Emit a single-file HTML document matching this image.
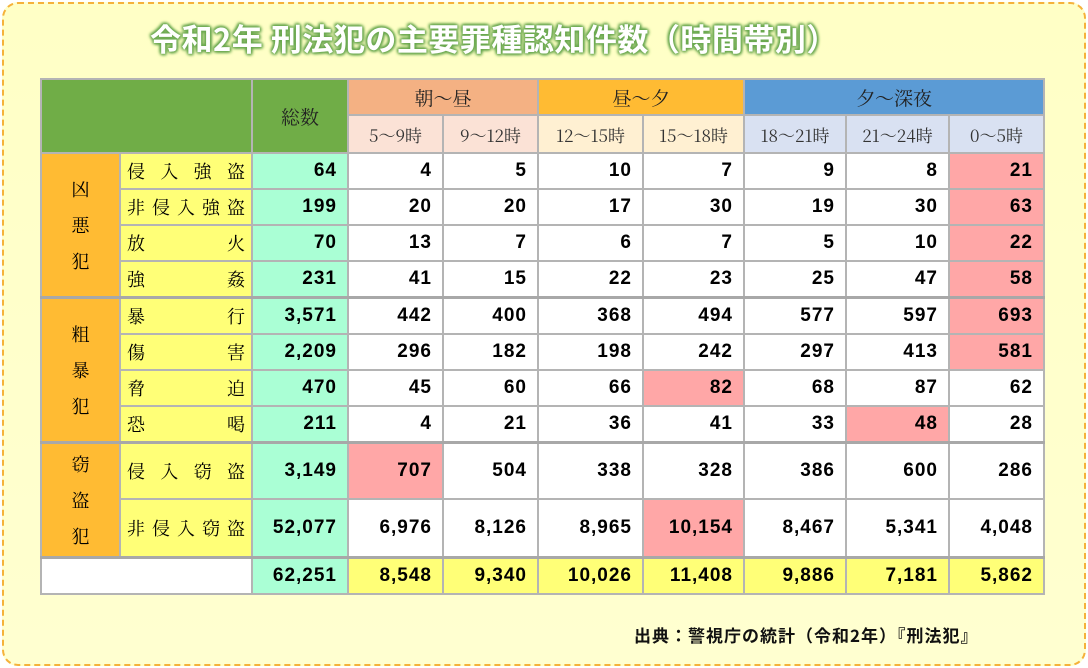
<!DOCTYPE html>
<html><head><meta charset="utf-8"><style>
body{margin:0;width:1088px;height:668px;overflow:hidden;background:#fff;font-family:"Liberation Sans","Noto Sans CJK JP",sans-serif}
.frame{position:absolute;left:2px;top:2px;width:1080px;height:660px;border:2px dashed #f5b23a;border-radius:16px;background:linear-gradient(#ffffc6,#ffffd0)}
.title{position:absolute;left:150px;top:15px;white-space:nowrap;font-size:31px;letter-spacing:0.5px;font-weight:bold;color:#fff;font-family:"Noto Sans CJK JP",sans-serif;text-shadow:0 0 3px #6aa84f,0 0 3px #6aa84f,0 0 4px #6aa84f,1px 1px 3px #6aa84f,-1px -1px 3px #6aa84f}
table{position:absolute;left:40px;top:78px;border-collapse:collapse;table-layout:fixed}
td{border:2px solid #b4b4b4;padding:0;font-size:19px;height:34px}
.h{font-family:"Noto Serif CJK JP",serif;text-align:center;font-size:19px;color:#222}
.s{font-family:"Noto Serif CJK JP",serif;text-align:center;font-size:17px;color:#333}
.n{text-align:right;padding-right:10px;font-weight:bold;font-family:"Liberation Sans Narrow","Liberation Sans",sans-serif;font-stretch:condensed;letter-spacing:1px;background:#fff}
.m{background:#aaffd5}
.p{background:#ffa7a7}
.y{background:#ffff77}
.c{background:#ffbb33;font-family:"Noto Serif CJK JP",serif;text-align:center;font-size:18px;line-height:36px}
.l{background:#ffff77;font-family:"Noto Serif CJK JP",serif;font-size:18px;padding:0 6px;text-align:justify;text-align-last:justify}
.g{border-top:3px solid #a8a8a8}
.src{position:absolute;left:634px;top:622px;font-size:17px;letter-spacing:1px;font-weight:bold;font-family:"Noto Sans CJK JP",sans-serif;color:#111;white-space:nowrap}
</style></head><body>
<div class="frame"></div>
<div class="title">令和2年 刑法犯の主要罪種認知件数（時間帯別）</div>
<table>
<colgroup><col style="width:79px"><col style="width:132px"><col style="width:96px"><col style="width:95px"><col style="width:95px"><col style="width:105px"><col style="width:101px"><col style="width:102px"><col style="width:103px"><col style="width:95px"></colgroup>
<tr><td colspan="2" rowspan="2" style="background:#70ad47"></td><td rowspan="2" class="h" style="background:#70ad47">総数</td><td colspan="2" class="h" style="background:#f4b183;height:33px">朝～昼</td><td colspan="2" class="h" style="background:#ffbb33">昼～夕</td><td colspan="3" class="h" style="background:#5b9bd5">夕～深夜</td></tr>
<tr><td class="s" style="background:#fbe2d6;height:36px">5～9時</td><td class="s" style="background:#fbe2d6">9～12時</td><td class="s" style="background:#fff0d2">12～15時</td><td class="s" style="background:#fff0d2">15～18時</td><td class="s" style="background:#d9e1f2">18～21時</td><td class="s" style="background:#d9e1f2">21～24時</td><td class="s" style="background:#d9e1f2">0～5時</td></tr>
<tr><td rowspan="4" class="c">凶<br>悪<br>犯</td><td class="l">侵入強盗</td><td class="n m">64</td><td class="n">4</td><td class="n">5</td><td class="n">10</td><td class="n">7</td><td class="n">9</td><td class="n">8</td><td class="n p">21</td></tr>
<tr><td class="l">非侵入強盗</td><td class="n m">199</td><td class="n">20</td><td class="n">20</td><td class="n">17</td><td class="n">30</td><td class="n">19</td><td class="n">30</td><td class="n p">63</td></tr>
<tr><td class="l">放火</td><td class="n m">70</td><td class="n">13</td><td class="n">7</td><td class="n">6</td><td class="n">7</td><td class="n">5</td><td class="n">10</td><td class="n p">22</td></tr>
<tr><td class="l">強姦</td><td class="n m">231</td><td class="n">41</td><td class="n">15</td><td class="n">22</td><td class="n">23</td><td class="n">25</td><td class="n">47</td><td class="n p">58</td></tr>
<tr><td rowspan="4" class="c g">粗<br>暴<br>犯</td><td class="l g">暴行</td><td class="n m g">3,571</td><td class="n g">442</td><td class="n g">400</td><td class="n g">368</td><td class="n g">494</td><td class="n g">577</td><td class="n g">597</td><td class="n p g">693</td></tr>
<tr><td class="l">傷害</td><td class="n m">2,209</td><td class="n">296</td><td class="n">182</td><td class="n">198</td><td class="n">242</td><td class="n">297</td><td class="n">413</td><td class="n p">581</td></tr>
<tr><td class="l">脅迫</td><td class="n m">470</td><td class="n">45</td><td class="n">60</td><td class="n">66</td><td class="n p">82</td><td class="n">68</td><td class="n">87</td><td class="n">62</td></tr>
<tr><td class="l">恐喝</td><td class="n m">211</td><td class="n">4</td><td class="n">21</td><td class="n">36</td><td class="n">41</td><td class="n">33</td><td class="n p">48</td><td class="n">28</td></tr>
<tr><td rowspan="2" class="c g">窃<br>盗<br>犯</td><td class="l g" style="height:54px">侵入窃盗</td><td class="n m g">3,149</td><td class="n p g">707</td><td class="n g">504</td><td class="n g">338</td><td class="n g">328</td><td class="n g">386</td><td class="n g">600</td><td class="n g">286</td></tr>
<tr><td class="l" style="height:56px">非侵入窃盗</td><td class="n m">52,077</td><td class="n">6,976</td><td class="n">8,126</td><td class="n">8,965</td><td class="n p">10,154</td><td class="n">8,467</td><td class="n">5,341</td><td class="n">4,048</td></tr>
<tr><td colspan="2" class="g" style="background:#fff"></td><td class="n m g">62,251</td><td class="n y g">8,548</td><td class="n y g">9,340</td><td class="n y g">10,026</td><td class="n y g">11,408</td><td class="n y g">9,886</td><td class="n y g">7,181</td><td class="n y g">5,862</td></tr>
</table>
<div class="src">出典：警視庁の統計（令和2年）『刑法犯』</div>
</body></html>
